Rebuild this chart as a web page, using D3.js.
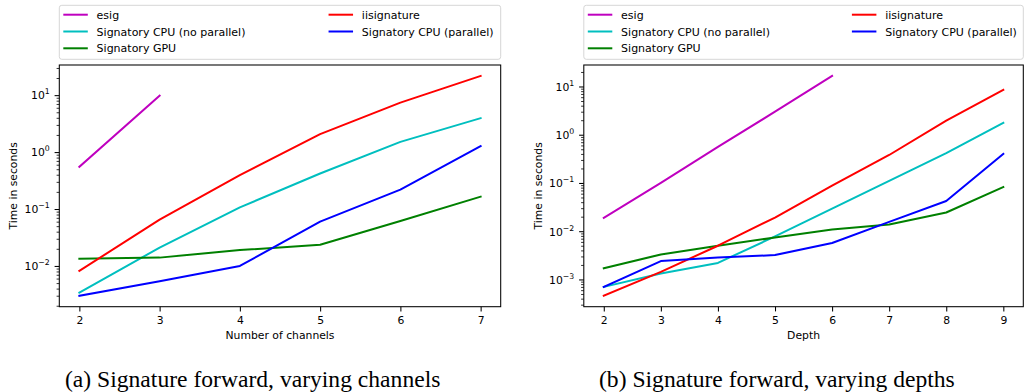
<!DOCTYPE html>
<html>
<head>
<meta charset="utf-8">
<script src="https://cdn.jsdelivr.net/npm/d3@7"></script>
<style>
  html, body { margin: 0; padding: 0; background: #ffffff; }
  svg { display: block; }
  text { font-family: "DejaVu Sans", sans-serif; fill: #000; }
  text.caption { font-family: "Liberation Serif", "Times New Roman", serif; }
</style>
</head>
<body>
<svg id="chart" width="1024" height="392"></svg>
<script>
// ---------------- data ----------------
const seriesNames = ["esig", "Signatory CPU (no parallel)", "Signatory GPU", "iisignature", "Signatory CPU (parallel)"];
const seriesColors = ["#bf00bf", "#00bfbf", "#008000", "#ff0000", "#0000ff"];

// Panel (a): varying channels
const channels = [2, 3, 4, 5, 6, 7];
const chEsig = [0.55, 9.8];
const chCpuNoPar = [0.0034, 0.021, 0.107, 0.42, 1.51, 3.94];
const chGpu = [0.0134, 0.014, 0.019, 0.0235, 0.0617, 0.165];
const chIisig = [0.0082, 0.065, 0.395, 2.07, 7.4, 21.7];
const chCpuPar = [0.0030, 0.0054, 0.0100, 0.060, 0.219, 1.27];

// Panel (b): varying depths
const depths = [2, 3, 4, 5, 6, 7, 8, 9];
const dEsig = [0.019, 0.1, 0.56, 3.0, 16.5];
const dCpuNoPar = [0.00070, 0.00133, 0.0022, 0.0078, 0.0295, 0.111, 0.417, 1.77];
const dGpu = [0.00171, 0.0033, 0.0050, 0.0074, 0.0108, 0.0138, 0.0244, 0.0826];
const dIisig = [0.00046, 0.00144, 0.0050, 0.0192, 0.088, 0.38, 1.95, 8.5];
const dCpuPar = [0.00070, 0.0024, 0.00285, 0.0032, 0.0057, 0.0156, 0.0424, 0.40];

const xLabelA = "Number of channels";
const xLabelB = "Depth";
const yLabel = "Time in seconds";
const captionA = "(a) Signature forward, varying channels";
const captionB = "(b) Signature forward, varying depths";

// ---------------- drawing ----------------
const svg = d3.select("#chart");
svg.append("rect").attr("width", 1024).attr("height", 392).attr("fill", "#fff");

const FS = 10.8;

function drawPanel(opt) {
  const { left, right, top, bottom, xs, ys, xLabel, caption, captionX, yLabelX } = opt;
  const g = svg.append("g");

  const xExt = d3.extent(xs);
  const xPad = (xExt[1] - xExt[0]) * 0.05;
  const x = d3.scaleLinear().domain([xExt[0] - xPad, xExt[1] + xPad]).range([left, right]);

  const allY = ys.flat();
  const lo = Math.log10(d3.min(allY)), hi = Math.log10(d3.max(allY));
  const yPad = (hi - lo) * 0.05;
  const y = d3.scaleLog().domain([Math.pow(10, lo - yPad), Math.pow(10, hi + yPad)]).range([bottom, top]);

  const clipId = "clip" + Math.round(left);
  g.append("clipPath").attr("id", clipId).append("rect")
    .attr("x", left).attr("y", top).attr("width", right - left).attr("height", bottom - top);

  const line = d3.line().x(d => x(d[0])).y(d => y(d[1]));
  ys.forEach((vals, i) => {
    const pts = vals.map((v, j) => [xs[j], v]);
    g.append("path").datum(pts)
      .attr("d", line)
      .attr("fill", "none")
      .attr("stroke", seriesColors[i])
      .attr("stroke-width", 2)
      .attr("stroke-linejoin", "round")
      .attr("stroke-linecap", "square")
      .attr("clip-path", `url(#${clipId})`);
  });

  g.append("rect").attr("x", left).attr("y", top).attr("width", right - left).attr("height", bottom - top)
    .attr("fill", "none").attr("stroke", "#000").attr("stroke-width", 1.05);

  const xAxis = d3.axisBottom(x).tickValues(xs).tickFormat(d3.format("d")).tickSize(4.7).tickPadding(4.5);
  const xg = g.append("g").attr("transform", `translate(0,${bottom})`).call(xAxis);
  xg.select(".domain").remove();
  xg.selectAll("line").attr("stroke", "#000").attr("stroke-width", 1.05);
  xg.selectAll("text").attr("font-size", FS).attr("fill", "#000");

  const [d0, d1] = y.domain();
  const majors = [], minors = [];
  for (let k = Math.floor(Math.log10(d0)); k <= Math.ceil(Math.log10(d1)); k++) {
    const base = Math.pow(10, k);
    if (base >= d0 && base <= d1) majors.push(k);
    for (let m = 2; m <= 9; m++) {
      const v = m * base;
      if (v >= d0 && v <= d1) minors.push(v);
    }
  }
  const yMinor = d3.axisLeft(y).tickValues(minors).tickFormat("").tickSize(2.7);
  const ymg = g.append("g").attr("transform", `translate(${left},0)`).call(yMinor);
  ymg.select(".domain").remove();
  ymg.selectAll("line").attr("stroke", "#000").attr("stroke-width", 0.8);

  const yMajor = d3.axisLeft(y).tickValues(majors.map(k => Math.pow(10, k))).tickFormat("").tickSize(4.7);
  const yg = g.append("g").attr("transform", `translate(${left},0)`).call(yMajor);
  yg.select(".domain").remove();
  yg.selectAll("line").attr("stroke", "#000").attr("stroke-width", 1.05);
  majors.forEach(k => {
    const t = g.append("text")
      .attr("x", left - 9.5)
      .attr("y", y(Math.pow(10, k)) + 4.3)
      .attr("text-anchor", "end")
      .attr("font-size", FS);
    t.append("tspan").text("10");
    t.append("tspan").attr("dy", -5).attr("font-size", FS * 0.72).text(k < 0 ? "\u2212" + (-k) : String(k));
  });

  g.append("text").attr("x", (left + right) / 2).attr("y", bottom + 32.5)
    .attr("text-anchor", "middle").attr("font-size", FS).text(xLabel);
  g.append("text").attr("transform", `translate(${yLabelX},${(top + bottom) / 2}) rotate(-90)`)
    .attr("text-anchor", "middle").attr("font-size", FS).text(yLabel);

  const lg = g.append("g");
  const lTop = 5.3, lBot = 59.3;
  lg.append("rect").attr("x", left).attr("y", lTop).attr("width", right - left).attr("height", lBot - lTop)
    .attr("rx", 2.5).attr("fill", "#fff").attr("fill-opacity", 0.8)
    .attr("stroke", "#d6d6d6").attr("stroke-width", 1);
  const rowsY = [14.7, 31.5, 48.3];
  const colX = [left + 4, left + 0.61 * (right - left)];
  seriesNames.forEach((name, i) => {
    const col = i < 3 ? 0 : 1;
    const row = i < 3 ? i : i - 3;
    const cx = colX[col], cy = rowsY[row];
    lg.append("line").attr("x1", cx).attr("x2", cx + 24.5).attr("y1", cy).attr("y2", cy)
      .attr("stroke", seriesColors[i]).attr("stroke-width", 2);
    lg.append("text").attr("x", cx + 33.3).attr("y", cy + 4).attr("font-size", 11).text(name);
  });

  svg.append("text").attr("class", "caption").attr("x", captionX).attr("y", 387)
    .attr("font-size", 23.6).text(caption);
}

drawPanel({
  left: 59.3, right: 500.7, top: 65, bottom: 306.7,
  xs: channels,
  ys: [chEsig, chCpuNoPar, chGpu, chIisig, chCpuPar],
  xLabel: xLabelA, caption: captionA, captionX: 65, yLabelX: 17
});
drawPanel({
  left: 583.8, right: 1023.3, top: 65, bottom: 306.7,
  xs: depths,
  ys: [dEsig, dCpuNoPar, dGpu, dIisig, dCpuPar],
  xLabel: xLabelB, caption: captionB, captionX: 599, yLabelX: 542
});
</script>
</body>
</html>
